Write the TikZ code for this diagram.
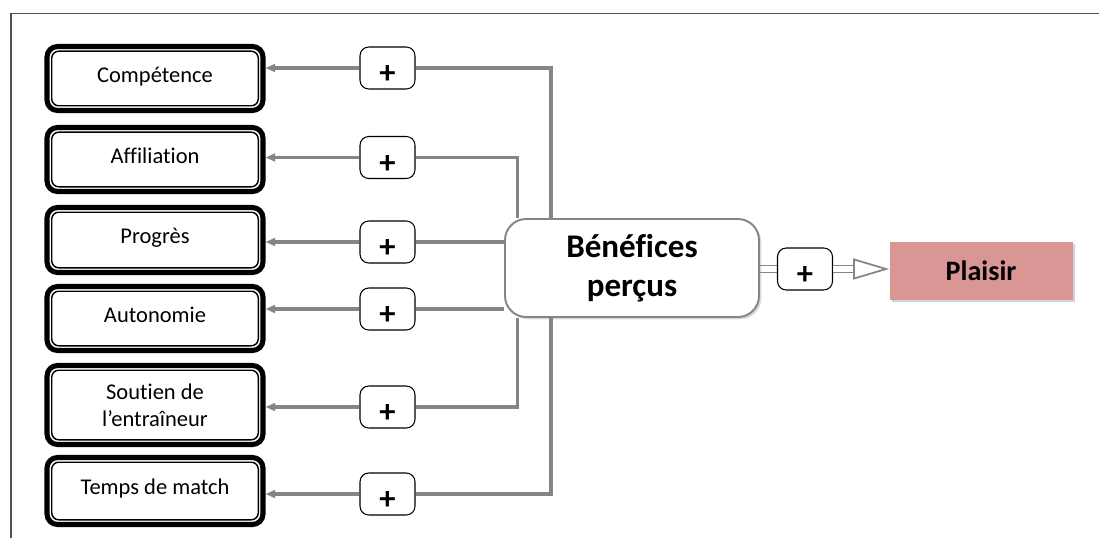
\documentclass[tikz,border=0pt]{standalone}
\usepackage{fontspec}
\setmainfont{Carlito}[Ligatures=CommonOff]
\usetikzlibrary{arrows.meta,backgrounds,shadows}
\definecolor{liengris}{RGB}{133,133,133}
\definecolor{rose}{RGB}{217,150,148}
\definecolor{cadregris}{RGB}{80,80,80}
\begin{document}
\begin{tikzpicture}[
    facteur/.style={draw, line width=2.9pt, rounded corners=6pt, minimum width=4.32cm,
      minimum height=1.28cm, align=center, font=\fontsize{12.8}{15.4}\selectfont},
    simple/.style={facteur, text height=9pt, text depth=5pt},
    interieur/.style={draw=black, line width=0.8pt, rounded corners=4pt},
    signe/.style={draw, fill=white, line width=0.6pt, rounded corners=5pt, inner sep=1pt,
      minimum width=1.1cm, minimum height=0.84cm, text height=18pt, text depth=0pt,
      font=\fontsize{18.5}{18}\bfseries\selectfont},
    lien/.style={draw=liengris, line width=1.8pt},
    fleche/.style={lien, -{Triangle[length=5.5pt,width=4.5pt]}},
    double trait/.style={draw=liengris, line width=1pt, double=white, double distance=3pt}
  ]
  \useasboundingbox (0,0) rectangle (21.98,10.76);
  \draw[cadregris, line width=0.9pt] (21.98,10.49) -- (0.22,10.49) -- (0.22,0);

  \node[simple] (comp) at (3.10,9.19) {Compétence};
  \node[simple] (affi) at (3.10,7.57) {Affiliation};
  \node[simple, minimum height=1.30cm] (prog) at (3.10,5.96) {Progrès};
  \node[simple] (auto) at (3.10,4.39) {Autonomie};
  \node[facteur, minimum height=1.58cm] (sout) at (3.10,2.66) {Soutien de\\l’entraîneur};
  \node[simple, minimum height=1.34cm] (temps) at (3.10,0.94) {Temps de match};
  \foreach \f in {comp,affi,prog,auto,sout,temps}
    \draw[interieur] ([shift={(0.145,0.145)}]\f.south west) rectangle ([shift={(-0.145,-0.145)}]\f.north east);

  \node[signe] (p1) at (7.75,9.40) {+};
  \node[signe] (p2) at (7.75,7.61) {+};
  \node[signe] (p3) at (7.75,5.92) {+};
  \node[signe] (p4) at (7.75,4.58) {+};
  \node[signe] (p5) at (7.75,2.62) {+};
  \node[signe] (p6) at (7.75,0.88) {+};

  \node[draw=liengris, line width=1.1pt, fill=white, rounded corners=12pt, minimum width=5.08cm,
    minimum height=1.96cm, align=center, font=\fontsize{18.8}{22}\bfseries\selectfont,
    drop shadow={shadow xshift=1.3pt, shadow yshift=-1.3pt, opacity=0.3}]
    (ben) at (12.64,5.40) {Bénéfices\\perçus};
  \node[signe] (pr) at (16.10,5.38) {+};
  \node[fill=rose, minimum width=3.66cm, minimum height=1.16cm,
    font=\fontsize{16}{16}\bfseries\selectfont,
    drop shadow={shadow xshift=1.3pt, shadow yshift=-1.3pt, opacity=0.35}]
    (plaisir) at (19.62,5.34) {Plaisir};

  \coordinate (g1) at (10.35,0);
  \coordinate (g2) at (11.02,0);
  \begin{scope}[on background layer]
    \draw[lien] (ben.north -| g2) |- (p1.east);
    \draw[lien] (ben.north -| g1) |- (p2.east);
    \draw[lien] (ben.west |- p3) -- (p3.east);
    \draw[lien] (ben.west |- p4) -- (p4.east);
    \draw[lien] (ben.south -| g1) |- (p5.east);
    \draw[lien] (ben.south -| g2) |- (p6.east);
    \foreach \p/\f in {p1/comp,p2/affi,p3/prog,p4/auto,p5/sout,p6/temps}
      \draw[fleche] (\p.west) -- (\p.west -| \f.east);
    \draw[double trait] (ben.east |- pr) -- (pr.west);
  \end{scope}
  \draw[double trait, -{Triangle[open,length=0.72cm,width=0.42cm]}] (pr.east) -- (pr.east -| plaisir.west);
\end{tikzpicture}
\end{document}
